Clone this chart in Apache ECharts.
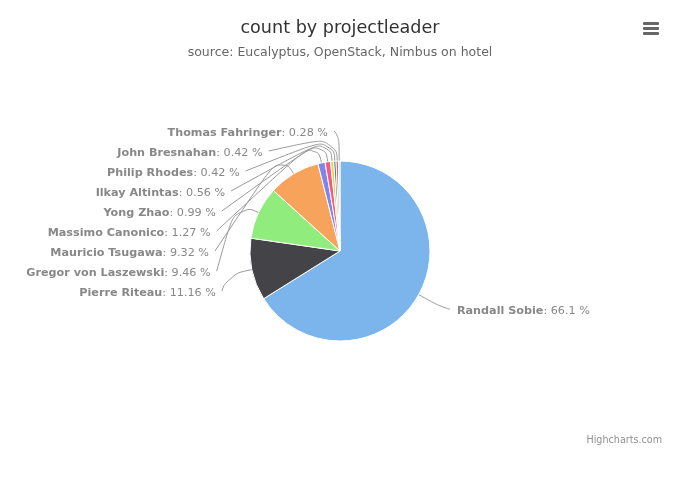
<!DOCTYPE html>
<html>
<head>
<meta charset="utf-8">
<script src="https://cdn.jsdelivr.net/npm/echarts@6/dist/echarts.min.js"></script>
<style>
html,body{margin:0;padding:0;background:#fff;}
#c{width:680px;height:500px;}
</style>
</head>
<body>
<div id="c"></div>
<script>
var names = ["Randall Sobie","Pierre Riteau","Gregor von Laszewski","Mauricio Tsugawa","Massimo Canonico","Yong Zhao","Ilkay Altintas","Philip Rhodes","John Bresnahan","Thomas Fahringer"];
var values = [66.1,11.16,9.46,9.32,1.27,0.99,0.56,0.42,0.42,0.28];
var colors = ["#7cb5ec","#434348","#90ed7d","#f7a35c","#8085e9","#f15c80","#e4d354","#2b908f","#f45b5b","#91e8e1"];
var titleText = "count by projectleader";
var subtitleText = "source: Eucalyptus, OpenStack, Nimbus on hotel";

var FONT = "DejaVu Sans";
var CX = 340, CY = 251, PR = 90;       // pie geometry (layout)
var DIST = 30, RL = PR + DIST;          // label circle
var SLOT = 20;                          // label line spacing

// Label distribution (Highcharts-like): natural positions on the label circle,
// then pushed apart vertically per side.
var total = values.reduce(function(a,b){return a+b;},0);
var info = [];
(function(){
  var cum = 0;
  values.forEach(function(v,i){
    var mid = (cum + v/2)/total*2*Math.PI; // clockwise from top
    cum += v;
    var sx = Math.sin(mid), cy = -Math.cos(mid);
    info.push({i:i, dx:sx, dy:cy, left: sx < 0, ny: CY + RL*cy});
  });
  [true,false].forEach(function(side){
    var arr = info.filter(function(o){return o.left===side;}).sort(function(a,b){return a.ny-b.ny;});
    var prev = -1e9;
    arr.forEach(function(o){ o.y = Math.max(o.ny, prev + SLOT, CY - RL); prev = o.y; });
    var over = prev - (CY + RL);
    if (over > 0) arr.forEach(function(o){ o.y -= over; });
  });
  info.forEach(function(o){
    var d = o.y - CY;
    var xc = Math.sqrt(Math.max(0, RL*RL - d*d));
    o.xc = o.left ? CX - xc : CX + xc;
  });
})();

var chart = echarts.init(document.getElementById('c'), null, {renderer:'canvas'});
var data = names.map(function(n,i){return {name:n, value:values[i]};});
chart.setOption({
  animation:false,
  color: colors,
  title:{
    text:titleText, subtext:subtitleText, left:'center', top:14, itemGap:9,
    textStyle:{fontFamily:FONT, fontSize:17.6, fontWeight:'normal', color:'#333333'},
    subtextStyle:{fontFamily:FONT, fontSize:12.5, color:'#666666'}
  },
  graphic:[
    {type:'rect', left:643, top:22, shape:{width:16,height:3,r:1}, style:{fill:'#666666'}},
    {type:'rect', left:643, top:27, shape:{width:16,height:3,r:1}, style:{fill:'#666666'}},
    {type:'rect', left:643, top:32, shape:{width:16,height:3,r:1}, style:{fill:'#666666'}},
    {type:'text', right:18, top:435, style:{text:'Highcharts.com', fontFamily:FONT, fontSize:9.6, fill:'#909090'}}
  ],
  series:[{
    type:'pie',
    center:[CX,CY],
    radius:[0,PR],
    startAngle:90,
    clockwise:true,
    avoidLabelOverlap:false,
    minShowLabelAngle:0,
    itemStyle:{borderColor:'#ffffff', borderWidth:1},
    label:{
      show:true,
      fontFamily:FONT, fontSize:11.2, color:'#888888',
      formatter:function(p){return '{b|'+p.name+'}: '+p.value+' %';},
      rich:{b:{fontFamily:FONT, fontSize:11.2, fontWeight:'bold', color:'#888888'}}
    },
    labelLine:{show:true, length:15, length2:10, smooth:0.6, lineStyle:{color:'#999999', width:1}},
    labelLayout:function(p){
      var o = info[p.dataIndex];
      var landing = [CX + PR*o.dx, CY + PR*o.dy];
      var ctrl = [CX + (PR+25)*o.dx, CY + (PR+25)*o.dy];
      var start = [o.left ? o.xc - 5 : o.xc + 5, o.y];
      return {
        x: o.left ? o.xc - 11 : o.xc + 12,
        y: o.y + 2,
        align: o.left ? 'right' : 'left',
        verticalAlign: 'middle',
        labelLinePoints: [landing, ctrl, start]
      };
    },
    data:data
  }]
});
</script>
</body>
</html>
